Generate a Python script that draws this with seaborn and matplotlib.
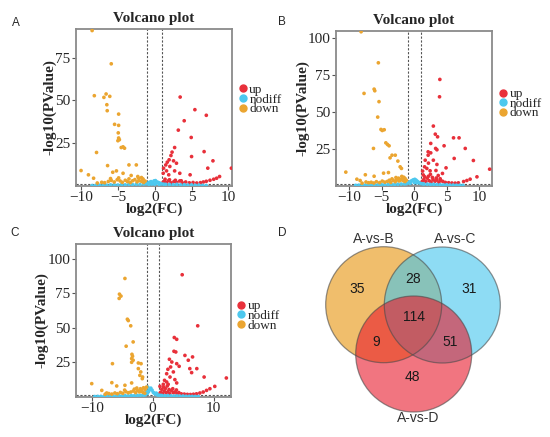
import matplotlib
matplotlib.use('Agg')
import matplotlib.pyplot as plt
import seaborn as sns
import pandas as pd
from matplotlib.lines import Line2D
from matplotlib.patches import Circle

# ---- panel A (volcano) ----
a_up_x = [3.45, 5.45, 7.0, 4.0, 3.2, 4.95, 2.7, 2.35, 2.2, 5.0, 6.7, 1.95, 2.55, 1.7, 7.9, 2.95, 1.5, 2.05, 1.2, 7.2,
          10.4, 1.6, 1.15, 2.7, 3.4, 1.9, 4.8, 8.8, 8.4, 8.0, 7.5, 7.0, 6.6,
          1.1, 1.3, 1.6, 1.9, 2.2, 2.6, 3.0, 3.4, 3.8, 4.2, 4.7, 5.2, 5.7, 6.2, 1.4, 2.0, 2.8, 3.6]
a_up_y = [52, 44.6, 41.3, 38.1, 32.6, 28.3, 22.4, 19.7, 17.7, 17.1, 20, 15.2, 14.6, 13.8, 14.6, 13.2, 12.2, 11.3, 10.3, 10.3,
          10.3, 8.7, 7.3, 8.7, 7.3, 6.4, 6.4, 5.4, 4.4, 3.8, 3.2, 2.6, 2.2,
          1.8, 2.6, 2.0, 3.0, 1.7, 2.4, 1.9, 2.8, 1.6, 2.2, 1.7, 1.9, 1.6, 1.8, 3.8, 3.5, 3.2, 2.9]
a_down_x = [-8.5, -5.9, -8.2, -6.9, -6.6, -6.1, -6.5, -6.45, -4.9, -5.45, -4.9, -4.95, -4.9, -4.8, -5.0, -4.55, -4.3, -4.1,
            -7.9, -3.5, -2.5, -6.4, -10.0, -9.0, -8.3, -5.7, -5.2, -4.3, -3.2, -2.3, -1.8, -1.6,
            -7.8, -7.2, -6.8, -6.3, -5.9, -5.5, -5.1, -4.7, -4.4, -4.0, -3.7, -3.3, -3.0, -2.7, -2.4, -2.1, -1.8, -1.5,
            -1.3, -6.0, -4.9, -3.5, -2.2, -1.6]
a_down_y = [91, 71.5, 52.8, 51.8, 53.8, 52.4, 47.5, 44, 42, 36, 35.4, 31, 28, 27, 26.4, 22.4, 22.8, 22,
            19.5, 12.2, 12.2, 11.8, 8.9, 6.4, 4.4, 7.9, 8.7, 7.3, 6.0, 5.4, 4.8, 4.0,
            1.6, 2.0, 1.8, 2.5, 3.1, 2.2, 3.5, 2.8, 2.0, 3.2, 2.4, 1.9, 2.9, 3.6, 2.3, 3.0, 2.6, 1.9,
            2.7, 4.2, 4.6, 4.0, 4.4, 3.5]
a_nodiff_x = [-8.5, -8, -7.5, -7, -6.5, -6, -5.5, -5, -4.5, -4, -3.5, -3, -2.5, -2, -1.5, -1.2, -0.9, -0.7, -0.5, -0.3,
              -0.1, 0.1, 0.3, 0.5, 0.7, 0.9, 1.2, 1.5, 2, 2.5, 3, 3.5, 4, 4.5, 5, 5.5, 6, 6.5, 7, -0.4, 0.2, 0.6, -0.8, 0.0]
a_nodiff_y = [0.1, 0.2, 0.3, 0.4, 0.3, 0.5, 0.6, 0.4, 0.7, 0.5, 0.8, 0.6, 0.9, 0.7, 1.0, 1.2, 1.6, 2.0, 2.4, 1.8,
              2.8, 3.0, 2.2, 1.9, 1.5, 1.1, 0.9, 0.8, 0.7, 0.6, 0.8, 0.5, 0.6, 0.4, 0.5, 0.3, 0.4, 0.2, 0.1, 1.0, 1.4, 0.8, 0.7, 0.9]

# ---- panel B (volcano) ----
b_up_x = [3.95, 3.9, 2.95, 3.25, 3.6, 6.9, 6.05, 4.6, 2.55, 3.3, 3.5, 7.85, 2.15, 2.55, 6.15, 9.1, 2.15, 1.7, 2.95, 3.5,
          4.9, 2.2, 1.6, 1.95, 1.3, 2.45, 3.35, 4.35, 11.6, 9.65, 8.6, 8.1, 7.6,
          1.1, 1.3, 1.5, 1.8, 2.0, 2.3, 2.6, 2.9, 3.2, 3.5, 3.8, 4.1, 4.4, 4.8, 5.3, 5.8, 6.3, 6.8, 1.6, 2.2, 2.8, 3.4,
          4.0, 1.4, 2.5, 3.7]
b_up_y = [72.1, 60.3, 40.4, 34.9, 33.1, 32.4, 32.4, 27, 28.6, 25.2, 24.3, 25.2, 22.9, 22.2, 18.4, 17, 20.6, 17.2, 17.2, 14.3,
          12, 15.2, 12.7, 11.6, 9.8, 10, 10.2, 8.2, 11.1, 5.9, 4.3, 3.4, 2.7,
          2.1, 3.0, 4.2, 2.6, 5.0, 3.3, 2.4, 4.1, 2.9, 3.7, 2.3, 3.4, 2.8, 2.1, 1.9, 1.7, 1.6, 1.8, 6.0, 6.3, 5.5, 5.1,
          4.6, 7.2, 7.6, 6.8]
b_down_x = [-8.15, -5.5, -7.7, -6.15, -6.05, -5.4, -5.6, -5.1, -4.9, -4.6, -6.25, -4.35, -4.1, -3.85, -3.4, -2.9, -3.7,
            -2.5, -2.15, -1.95, -10.5, -7.5, -4.7, -3.95, -6.15, -8.8, -8.3, -2.7, -2.15, -1.65, -1.4, -3.8,
            -8.0, -7.4, -7.0, -6.6, -6.2, -5.8, -5.3, -4.9, -4.5, -4.1, -3.6, -3.2, -2.9, -2.6, -2.3, -2.0, -1.7, -1.4,
            -1.2, -3.4, -2.4, -1.6, -1.9, -2.8]
b_down_y = [104.5, 83.4, 62.6, 65.5, 64.4, 57, 46.5, 38.1, 37.4, 37.9, 25.2, 29, 27.9, 27, 20.6, 20.6, 18.8,
            16.6, 12.7, 11.6, 9.1, 7.3, 8.4, 8.8, 6.3, 4.3, 3.4, 4.1, 3.6, 4.1, 4.8, 3.6,
            1.6, 2.4, 1.9, 2.2, 1.7, 2.6, 2.0, 3.0, 2.3, 2.8, 2.1, 3.4, 2.6, 3.8, 3.1, 4.2, 3.3, 2.7,
            3.6, 4.5, 5.0, 5.6, 6.2, 5.4]
b_nodiff_x = [-9, -8.5, -8, -7.5, -7, -6.5, -6, -5.5, -5, -4.5, -4, -3.5, -3, -2.5, -2, -1.5, -1.2, -0.9, -0.7, -0.5,
              -0.3, -0.1, 0.1, 0.3, 0.5, 0.7, 0.9, 1.2, 1.5, 2, 2.5, 3, 3.5, 4, 4.5, 5, 5.5, 6, 6.5, 7, 7.5, -0.6, 0.4, 0.0]
b_nodiff_y = [0.1, 0.2, 0.2, 0.3, 0.4, 0.5, 0.4, 0.6, 0.5, 0.7, 0.6, 0.8, 0.7, 0.9, 1.0, 1.1, 1.3, 1.7, 2.3, 2.9,
              3.4, 3.9, 4.2, 3.6, 2.8, 2.1, 1.6, 1.2, 1.0, 0.9, 0.7, 0.8, 0.6, 0.5, 0.4, 0.5, 0.3, 0.3, 0.2, 0.2, 0.1, 1.5, 1.8, 2.0]

# ---- panel C (volcano) ----
c_up_x = [4.85, 7.4, 3.55, 3.95, 3.5, 3.8, 5.3, 6.55, 5.85, 2.75, 3.15, 3.95, 2.95, 4.35, 6.1, 7.25, 2.5, 3.4, 2.3, 6.4,
          8.45, 12.1, 2.85, 3.65, 1.95, 2.3, 1.75, 1.2, 2.55, 3.95, 10.2, 9.4, 8.85, 8.3, 7.75,
          1.1, 1.3, 1.6, 1.9, 2.2, 2.5, 2.8, 3.1, 3.4, 3.7, 4.0, 4.3, 4.7, 5.2, 5.7, 6.2, 6.7, 7.2, 1.5, 2.1, 2.7, 3.3,
          3.9, 1.8, 2.4]
c_up_y = [88.6, 51.5, 43, 41.7, 33, 32.5, 30, 28.9, 26.5, 27.2, 25.2, 24, 21.6, 22.1, 20.4, 20.4, 19.9, 18, 16.7, 17.5,
          14.3, 13.6, 14.3, 12.4, 11.9, 10.7, 9, 7.5, 9, 10, 7.5, 5.8, 4.6, 3.4, 2.7,
          1.9, 3.2, 2.4, 4.1, 2.8, 3.6, 2.2, 4.4, 2.9, 3.5, 2.3, 3.0, 2.1, 1.9, 1.7, 1.6, 1.8, 2.1, 5.4, 6.0, 5.2, 5.8,
          4.9, 7.0, 7.8]
c_down_x = [-4.55, -5.45, -5.2, -5.5, -4.15, -4.0, -3.6, -3.2, -4.35, -3.4, -3.3, -3.45, -3.2, -3.45, -2.35, -1.9, -6.6,
            -2.35, -1.95, -2.1, -1.65, -1.7, -10.0, -6.7, -5.9, -4.55, -3.45, -2.6, -1.8, -1.25, -1.0, -8.35, -7.55,
            -7.8, -7.2, -6.7, -6.2, -5.8, -5.3, -4.9, -4.4, -4.0, -3.6, -3.2, -2.8, -2.5, -2.2, -1.9, -1.6, -1.3,
            -3.0, -2.0, -1.5, -4.6]
c_down_y = [85.9, 74.5, 73.1, 71.4, 56.3, 55.3, 51.5, 39.8, 36.7, 30.8, 29.4, 27.7, 26.5, 25, 24.5, 24, 24,
            20.4, 18, 15.5, 14.3, 13.1, 9.5, 10.2, 7.8, 8.3, 10, 6.3, 4.6, 5.3, 7, 4.6, 2.7,
            1.8, 2.3, 1.9, 2.7, 2.2, 3.1, 2.5, 3.6, 2.9, 3.4, 4.1, 3.0, 4.6, 3.5, 4.0, 3.2, 2.6,
            5.5, 5.8, 6.5, 4.8]
c_nodiff_x = [-9.5, -9, -8.5, -8, -7.5, -7, -6.5, -6, -5.5, -5, -4.5, -4, -3.5, -3, -2.5, -2, -1.5, -1.2, -0.9, -0.7,
              -0.5, -0.3, -0.1, 0.1, 0.3, 0.5, 0.7, 0.9, 1.2, 1.5, 2, 2.5, 3, 3.5, 4, 4.5, 5, 5.5, 6, 6.5, 7, 7.5,
              -1.0, -0.8, 0.6]
c_nodiff_y = [0.1, 0.2, 0.2, 0.3, 0.4, 0.3, 0.5, 0.4, 0.6, 0.5, 0.7, 0.6, 0.8, 0.7, 0.9, 1.0, 1.1, 1.4, 2.2, 3.5,
              5.0, 6.2, 4.8, 3.2, 2.4, 1.8, 1.5, 1.2, 1.0, 0.9, 0.7, 0.8, 0.6, 0.5, 0.6, 0.4, 0.5, 0.3, 0.3, 0.2, 0.2, 0.1,
              4.0, 7.0, 2.6]

# ---- panel D (venn) ----
venn_sets = ['A-vs-B', 'A-vs-C', 'A-vs-D']
venn_regions = ['B', 'C', 'D', 'BC', 'BD', 'CD', 'BCD']
venn_counts = [35, 31, 48, 28, 9, 51, 114]

groups = ['up', 'nodiff', 'down']
colors = {'up': '#E8303A', 'nodiff': '#4DC8EE', 'down': '#EBA530'}

sns.set_style('white')
plt.rcParams['font.family'] = ['Liberation Serif', 'DejaVu Serif']


def make_df(ux, uy, nx, ny, dx, dy):
    return pd.concat([
        pd.DataFrame({'log2FC': ux, 'logP': uy, 'group': 'up'}),
        pd.DataFrame({'log2FC': nx, 'logP': ny, 'group': 'nodiff'}),
        pd.DataFrame({'log2FC': dx, 'logP': dy, 'group': 'down'}),
    ], ignore_index=True)


def volcano(ax, df, xlim, ylim, xticks, yticks, leg_y):
    sns.scatterplot(data=df, x='log2FC', y='logP', hue='group', hue_order=groups, palette=colors,
                    s=7, linewidth=0, legend=False, ax=ax, zorder=3)
    ax.axvline(-1, color='#555555', lw=0.8, ls=(0, (2, 1.5)), zorder=2)
    ax.axvline(1, color='#555555', lw=0.8, ls=(0, (2, 1.5)), zorder=2)
    ax.axhline(1.3, color='#555555', lw=0.8, ls=(0, (2, 1.5)), zorder=2)
    ax.set_xlim(xlim)
    ax.set_ylim(ylim)
    ax.set_xticks(xticks)
    ax.set_yticks(yticks)
    ax.tick_params(axis='both', labelsize=11, length=3, width=0.8, color='#555555', pad=1,
                   bottom=True, left=True)
    for sp in ax.spines.values():
        sp.set_visible(True)
        sp.set_color('#8a8a8a')
        sp.set_linewidth(1.3)
    ax.set_title('Volcano plot', fontsize=11, fontweight='bold', pad=5)
    ax.set_xlabel('log2(FC)', fontsize=11, fontweight='bold', labelpad=-1)
    ax.set_ylabel('-log10(PValue)', fontsize=11, fontweight='bold', labelpad=-1)
    handles = [Line2D([], [], marker='o', ls='', color=colors[g], markersize=5) for g in groups]
    ax.legend(handles, groups, loc='center left', bbox_to_anchor=(1.0, leg_y), frameon=False,
              fontsize=9.5, labelspacing=-0.2, handletextpad=0.1, handlelength=0.8, borderpad=0,
              borderaxespad=0.4)


fig = plt.figure(figsize=(5.5, 4.37), dpi=100)

ax_a = fig.add_axes([0.138, 0.575, 0.284, 0.359])
volcano(ax_a, make_df(a_up_x, a_up_y, a_nodiff_x, a_nodiff_y, a_down_x, a_down_y),
        (-10.7, 10.5), (0, 92), [-10, -5, 0, 5, 10], [25, 50, 75], 0.55)

ax_b = fig.add_axes([0.611, 0.5755, 0.284, 0.3535])
volcano(ax_b, make_df(b_up_x, b_up_y, b_nodiff_x, b_nodiff_y, b_down_x, b_down_y),
        (-12, 12), (0, 105), [-10, -5, 0, 5, 10], [25, 50, 75, 100], 0.53)

ax_c = fig.add_axes([0.138, 0.0922, 0.2813, 0.3487])
volcano(ax_c, make_df(c_up_x, c_up_y, c_nodiff_x, c_nodiff_y, c_down_x, c_down_y),
        (-12.6, 12.8), (0, 110.7), [-10, 0, 10], [25, 50, 75, 100], 0.53)

# venn diagram, drawn in pixel-like coordinates of the lower right region
ax_d = fig.add_axes([300 / 550, 0, 250 / 550, 227 / 437])
ax_d.set_xlim(300, 550)
ax_d.set_ylim(437, 210)
ax_d.axis('off')
circ_centers = [(383.7, 304.7), (442.3, 305.0), (413.7, 354.0)]
circ_colors = ['#E6930A', '#43C6ED', '#E9192B']
for (cx, cy), col in zip(circ_centers, circ_colors):
    ax_d.add_patch(Circle((cx, cy), 58, facecolor=col, alpha=0.6, edgecolor='none'))
for (cx, cy) in circ_centers:
    ax_d.add_patch(Circle((cx, cy), 58, facecolor='none', edgecolor='#4a4a4a', alpha=0.6, lw=0.9))

label_pos = [(373.3, 239.3), (455.0, 239.3), (418.3, 418.3)]
for name, (lx, ly) in zip(venn_sets, label_pos):
    ax_d.text(lx, ly, name, ha='center', va='center', fontsize=10, color='#333333', family='Liberation Sans')
count_pos = {'B': (356.7, 289.3), 'C': (469.0, 289.3), 'D': (412.7, 377.3), 'BC': (413.3, 279.0),
             'BD': (375.7, 342.0), 'CD': (450.0, 342.0), 'BCD': (414.0, 317.3)}
for reg, n in zip(venn_regions, venn_counts):
    px, py = count_pos[reg]
    ax_d.text(px, py, str(n), ha='center', va='center', fontsize=10, color='#1a1a1a', family='Liberation Sans')

# panel letters
for letter, (px, py) in zip('ABCD', [(16, 22.7), (282.3, 21.7), (15, 232.7), (282.3, 232.7)]):
    fig.text(px / 550, 1 - py / 437, letter, ha='center', va='center', fontsize=8.5, family='Liberation Sans')

fig.savefig('out.png', dpi=100)
